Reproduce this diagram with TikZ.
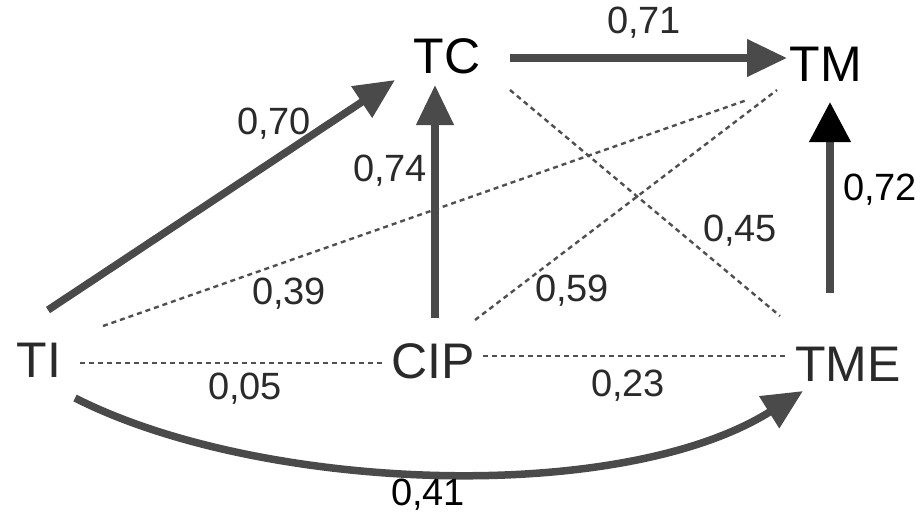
\documentclass[tikz,border=0pt]{standalone}
\usepackage{fontspec}
\setmainfont{Liberation Sans}
\usetikzlibrary{arrows.meta,calc}
\definecolor{ln}{HTML}{4A4A4A}
\definecolor{dt}{HTML}{505050}
\definecolor{tx}{HTML}{2A2A2A}
\tikzset{
  var/.style={inner sep=0pt, text=tx, font=\fontsize{50}{56}\selectfont},
  coef/.style={inner sep=0pt, text depth=0pt, text=tx, font=\fontsize{38}{44}\selectfont},
  strong/.style={draw=ln, line width=7.5pt, -{Triangle[length=40pt,width=36pt]}},
  weak/.style={draw=dt, line width=2.4pt, dash pattern=on 5pt off 4pt},
}
\begin{document}
\begin{tikzpicture}[x=1pt,y=-1pt]
\useasboundingbox (0,0) rectangle (921,512);
\fill[white] (0,0) rectangle (921,512);
% variables
\node[var, text=black] (TC) at (447,56) {TC};
\node[var, text=black] (TM) at (826,64) {TM};
\node[var] (TI) at (39,360) {TI};
\node[var] (CIP) at (433,361) {CIP};
\node[var] (TME) at (848,364) {TME};
% weak (dotted) links
\draw[weak] ($(TI)+(41,3)$) -- ($(CIP)+(-48,2)$);
\draw[weak] ($(CIP)+(50,-5)$) -- ($(TME)+(-60,-8)$);
\draw[weak] ($(TI)+(64,-34)$) -- ($(TM)+(-79,36)$);
\draw[weak] ($(CIP)+(42,-41)$) -- ($(TM)+(-49,26)$);
\draw[weak] ($(TC)+(63,34)$) -- ($(TME)+(-68,-48)$);
% strong links
\draw[strong] ($(TI)+(9,-50)$) -- ($(TC)+(-52,24)$);
\draw[strong] ($(CIP)+(2,-43)$) -- ($(TC)+(-12,29)$);
\draw[strong] ($(TC)+(63,2)$) -- ($(TM)+(-39,-6)$);
\draw[strong, -{Triangle[length=40pt,width=40pt,color=black]}] ($(TME)+(-18,-71)$) -- ($(TM)+(4,38)$);
\draw[strong] ($(TI)+(36,38)$) .. controls (260,492) and (620,506) .. ($(TME)+(-45,27)$);
% coefficients
\node[coef] (c70) at (274,121) {0,70};
\node[coef] (c74) at (390,168) {0,74};
\node[coef] (c71) at (644,20) {0,71};
\node[coef, text=black] (c72) at (880,187) {0,72};
\node[coef] (c45) at (740,228) {0,45};
\node[coef] (c39) at (289,291) {0,39};
\node[coef] (c59) at (572,288) {0,59};
\node[coef] (c05) at (245,386) {0,05};
\node[coef] (c23) at (628,383) {0,23};
\node[coef, text=black] (c41) at (428,492) {0,41};
\end{tikzpicture}
\end{document}
